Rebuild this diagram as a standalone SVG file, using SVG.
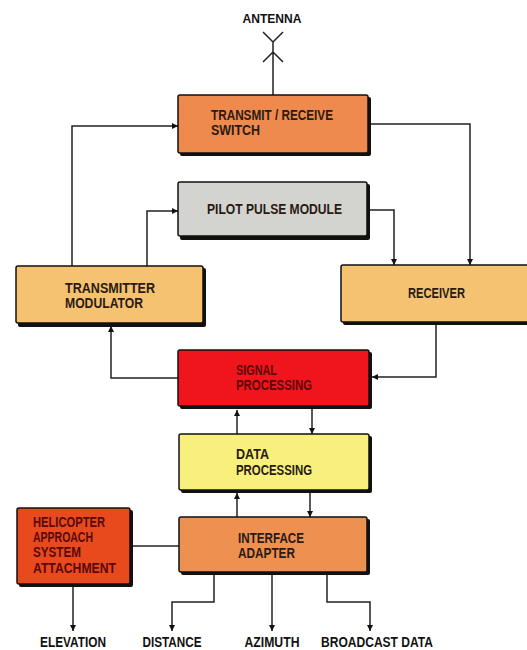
<svg xmlns="http://www.w3.org/2000/svg" width="527" height="650" viewBox="0 0 527 650">
  <style>
    .shadow { fill: #111; }
    .box { stroke: #111; stroke-width: 1.5; }
    .lbl { font-family: "Liberation Sans", Arial, sans-serif; font-weight: bold; font-size: 14px; fill: #2a1a14; }
    .dark { fill: #5a0808; }
    .out { font-family: "Liberation Sans", Arial, sans-serif; font-weight: bold; font-size: 14px; fill: #111; text-anchor: middle; }
    .wire { fill: none; stroke: #222; stroke-width: 1.5; }
    .arrow { marker-end: url(#head); }
  </style>
  <defs>
    <marker id="head" viewBox="0 0 10 10" refX="10" refY="5" markerWidth="8" markerHeight="6" markerUnits="userSpaceOnUse" orient="auto">
      <path d="M0,0 L10,5 L0,10 z" fill="#111"/>
    </marker>
  </defs>
  <rect width="527" height="650" fill="#fff"/>

  <!-- antenna symbol and label -->
  <g id="antenna">
    <text class="out" x="272" y="23" textLength="59" lengthAdjust="spacingAndGlyphs" style="font-size:13px">ANTENNA</text>
    <path class="wire" d="M263,32 L273,42 L283,32 M263,62 L273,52 L283,62 M273,42 V95"/>
  </g>

  <!-- connectors -->
  <g id="connectors">
    <path class="wire arrow" d="M72,266 V126 H178"/>
    <path class="wire arrow" d="M368,124 H470 V265"/>
    <path class="wire arrow" d="M147,266 V211 H178"/>
    <path class="wire arrow" d="M367,210 H394 V265"/>
    <path class="wire arrow" d="M436,323 V377 H372"/>
    <path class="wire arrow" d="M179,378 H111 V326"/>
    <path class="wire arrow" d="M237,434 V410"/>
    <path class="wire arrow" d="M312,409 V434"/>
    <path class="wire arrow" d="M237,517 V493"/>
    <path class="wire arrow" d="M310,493 V517"/>
    <path class="wire" d="M132,546 H179"/>
    <path class="wire arrow" d="M73,586 V631"/>
    <path class="wire arrow" d="M214,574 V602 H172 V631"/>
    <path class="wire arrow" d="M272,574 V631"/>
    <path class="wire arrow" d="M327,574 V602 H370 V631"/>
  </g>

  <g id="transmit-receive-switch">
    <rect class="shadow" x="180" y="97" width="191" height="59" rx="2"/>
    <rect class="box" x="178" y="95" width="190" height="58" rx="2" fill="#EE8A4E"/>
    <text class="lbl" x="211" y="120" textLength="122" lengthAdjust="spacingAndGlyphs">TRANSMIT / RECEIVE</text>
    <text class="lbl" x="211" y="135" textLength="49" lengthAdjust="spacingAndGlyphs">SWITCH</text>
  </g>

  <g id="pilot-pulse-module">
    <rect class="shadow" x="180" y="184" width="190" height="56" rx="2"/>
    <rect class="box" x="178" y="182" width="189" height="54" rx="2" fill="#D3D4CF"/>
    <text class="lbl" x="207" y="214" textLength="135" lengthAdjust="spacingAndGlyphs">PILOT PULSE MODULE</text>
  </g>

  <g id="transmitter-modulator">
    <rect class="shadow" x="18" y="268" width="188" height="59" rx="2"/>
    <rect class="box" x="16" y="266" width="187" height="57" rx="2" fill="#F4C270"/>
    <text class="lbl" x="65" y="293" textLength="90" lengthAdjust="spacingAndGlyphs">TRANSMITTER</text>
    <text class="lbl" x="65" y="308" textLength="78" lengthAdjust="spacingAndGlyphs">MODULATOR</text>
  </g>

  <g id="receiver">
    <rect class="shadow" x="343" y="267" width="200" height="58" rx="2"/>
    <rect class="box" x="341" y="265" width="200" height="57" rx="2" fill="#F4C270"/>
    <text class="lbl" x="408" y="298" textLength="57" lengthAdjust="spacingAndGlyphs">RECEIVER</text>
  </g>

  <g id="signal-processing">
    <rect class="shadow" x="180" y="352" width="192" height="57" rx="2"/>
    <rect class="box" x="178" y="350" width="191" height="56" rx="2" fill="#F0141C"/>
    <text class="lbl dark" x="236" y="375" textLength="41" lengthAdjust="spacingAndGlyphs">SIGNAL</text>
    <text class="lbl dark" x="236" y="390" textLength="76" lengthAdjust="spacingAndGlyphs">PROCESSING</text>
  </g>

  <g id="data-processing">
    <rect class="shadow" x="181" y="436" width="191" height="57" rx="2"/>
    <rect class="box" x="179" y="434" width="190" height="56" rx="2" fill="#F8F07C"/>
    <text class="lbl" x="236" y="459" textLength="33" lengthAdjust="spacingAndGlyphs">DATA</text>
    <text class="lbl" x="236" y="475" textLength="76" lengthAdjust="spacingAndGlyphs">PROCESSING</text>
  </g>

  <g id="interface-adapter">
    <rect class="shadow" x="181" y="519" width="189" height="56" rx="2"/>
    <rect class="box" x="179" y="517" width="188" height="55" rx="2" fill="#EE9050"/>
    <text class="lbl" x="238" y="543" textLength="66" lengthAdjust="spacingAndGlyphs">INTERFACE</text>
    <text class="lbl" x="238" y="558" textLength="57" lengthAdjust="spacingAndGlyphs">ADAPTER</text>
  </g>

  <g id="helicopter-approach-system-attachment">
    <rect class="shadow" x="19" y="510" width="114" height="77" rx="2"/>
    <rect class="box" x="17" y="508" width="113" height="76" rx="2" fill="#E84A1E"/>
    <text class="lbl dark" x="33" y="527" textLength="72" lengthAdjust="spacingAndGlyphs">HELICOPTER</text>
    <text class="lbl dark" x="33" y="542" textLength="60" lengthAdjust="spacingAndGlyphs">APPROACH</text>
    <text class="lbl dark" x="33" y="557" textLength="48" lengthAdjust="spacingAndGlyphs">SYSTEM</text>
    <text class="lbl dark" x="33" y="573" textLength="83" lengthAdjust="spacingAndGlyphs">ATTACHMENT</text>
  </g>

  <!-- output labels -->
  <g id="outputs">
    <text class="out" x="73" y="647" textLength="66" lengthAdjust="spacingAndGlyphs">ELEVATION</text>
    <text class="out" x="172" y="647" textLength="59" lengthAdjust="spacingAndGlyphs">DISTANCE</text>
    <text class="out" x="272" y="647" textLength="55" lengthAdjust="spacingAndGlyphs">AZIMUTH</text>
    <text class="out" x="377" y="647" textLength="112" lengthAdjust="spacingAndGlyphs">BROADCAST DATA</text>
  </g>
</svg>
